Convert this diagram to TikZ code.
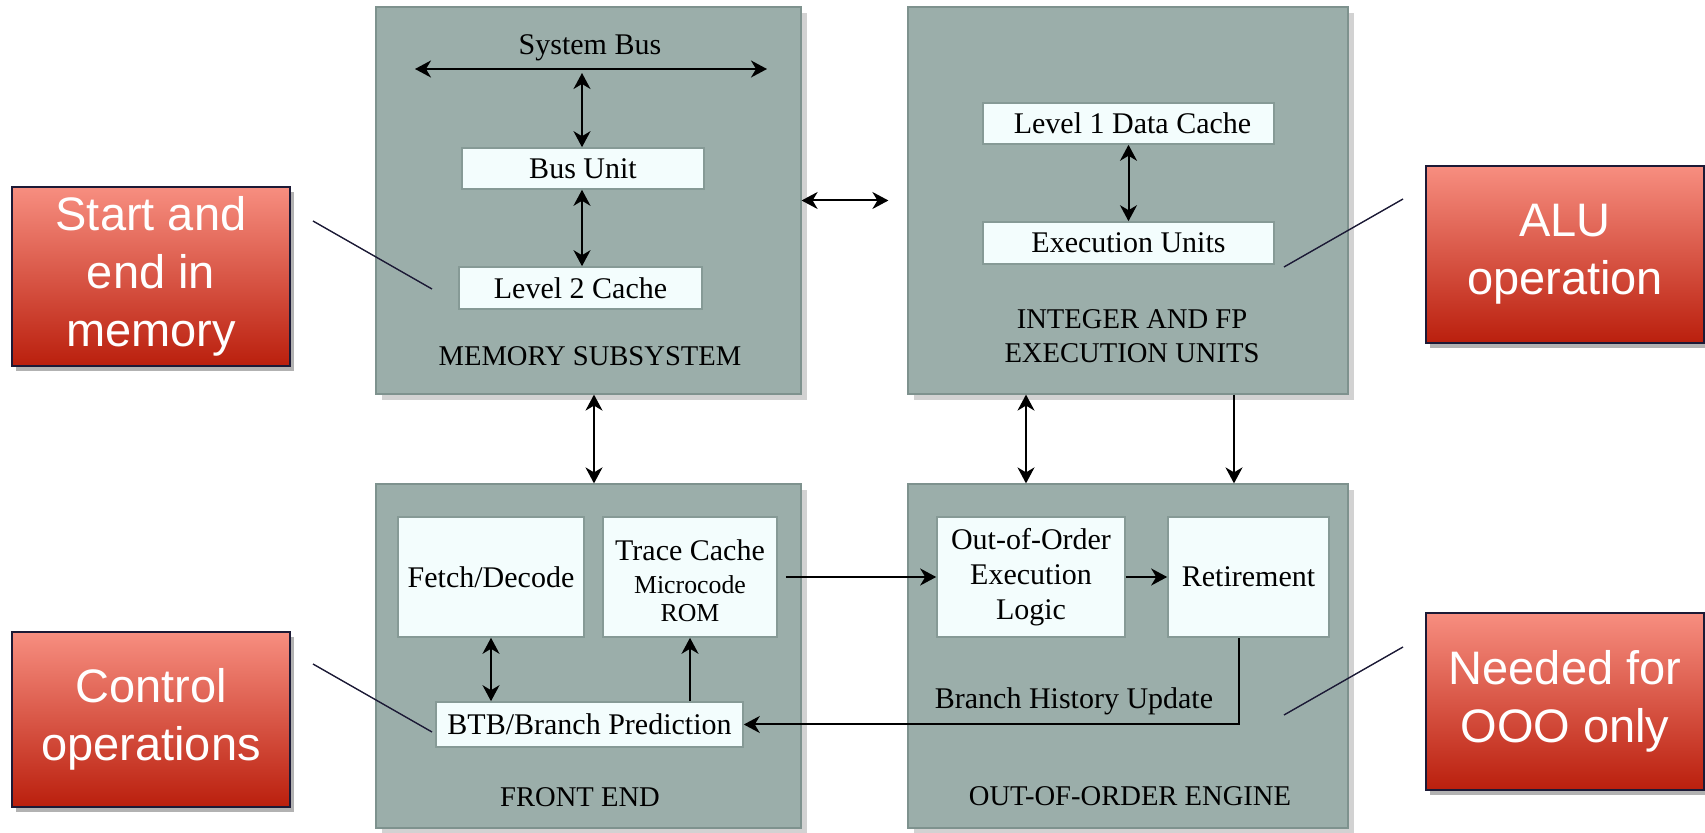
\documentclass[tikz,border=0pt]{standalone}
\usepackage{fontspec}
\setmainfont{Liberation Serif}
\newfontfamily\calloutfont{Liberation Sans}
\usetikzlibrary{arrows.meta,shadows,calc}

\definecolor{unitgray}{HTML}{9BAEAA}
\definecolor{unitedge}{HTML}{7E928E}
\definecolor{cellfill}{HTML}{F3FDFD}
\definecolor{celledge}{HTML}{869A96}
\definecolor{shadowgray}{HTML}{D2D2D2}
\definecolor{noteTop}{HTML}{F78E80}
\definecolor{noteMid}{HTML}{F04D35}
\definecolor{noteBot}{HTML}{BA1F0D}
\definecolor{noteEdge}{HTML}{1C1A36}

\begin{document}
\begin{tikzpicture}[x=0.5pt,y=-0.5pt,
  unit/.style={draw=unitedge, line width=0.6pt, fill=unitgray, inner sep=0pt,
    drop shadow={shadow xshift=3pt, shadow yshift=-3pt, fill=shadowgray, opacity=1}},
  cell/.style={draw=celledge, line width=0.8pt, fill=cellfill, inner sep=0pt,
    align=center, font=\fontsize{15}{17.5}\selectfont},
  caption/.style={align=center, inner sep=0pt, font=\fontsize{14.3}{17}\selectfont},
  plain/.style={inner sep=0pt, font=\fontsize{15}{17.5}\selectfont},
  small/.style={inner sep=0pt, font=\fontsize{12.9}{14}\selectfont},
  link/.style={line width=1pt, black},
  tip/.style={-{Stealth[length=8pt,width=8.5pt,inset=2.5pt]}},
  both/.style={{Stealth[length=8pt,width=8.5pt,inset=2.5pt]}-{Stealth[length=8pt,width=8.5pt,inset=2.5pt]}},
  note/.style={draw=noteEdge, line width=1pt, top color=noteTop, middle color=noteMid,
    bottom color=noteBot, text=white, align=center, inner sep=0pt,
    minimum width=139pt, font=\calloutfont\fontsize{23.5}{29}\selectfont,
    drop shadow={shadow xshift=2pt, shadow yshift=-2.5pt, fill=black, opacity=0.3}},
  pointer/.style={draw=noteEdge, line width=0.7pt}
]
\useasboundingbox[fill=white] (0,0) rectangle (1705,833);

% the four functional units
\node[unit, minimum width=212.5pt, minimum height=193.5pt] (mem) at (588.5,200.5) {};
\node[unit, minimum width=220pt,   minimum height=193.5pt] (int) at (1128,200.5) {};
\node[unit, minimum width=212.5pt, minimum height=172pt]   (fe)  at (588.5,656) {};
\node[unit, minimum width=220pt,   minimum height=172pt]   (ooo) at (1128,656) {};

% memory subsystem
\node[plain] (sysbus) at (590,48) {System Bus};
\coordinate (busL) at (415,69);
\coordinate (busR) at (767,69);
\coordinate (bustap) at (582,73);
\node[cell, minimum width=121pt, minimum height=20.5pt] (busunit) at (583,168.5) {Bus Unit};
\node[cell, minimum width=121.5pt, minimum height=21pt] (l2) at (580.5,288) {Level 2 Cache};
\node[caption] (memlbl) at (590,356) {MEMORY SUBSYSTEM};

% integer and FP execution units
\node[cell, minimum width=145.5pt, minimum height=20.5pt] (l1) at (1128.5,123.5) {\hspace*{4pt}Level 1 Data Cache};
\node[cell, minimum width=145.5pt, minimum height=21pt] (eu) at (1128.5,243) {Execution Units};
\node[caption] (intlbl) at (1132,336) {INTEGER AND FP\\EXECUTION UNITS};

% front end
\node[cell, minimum width=93pt, minimum height=60pt] (fetch) at (491,577) {Fetch/Decode};
\node[cell, minimum width=87pt, minimum height=60pt] (trace) at (690,577) {};
\node[plain] (tracetxt) at (690,550) {Trace Cache};
\node[small] (microtxt) at (690,585) {Microcode};
\node[small] (romtxt) at (690,613) {ROM};
\node[cell, minimum width=153.5pt, minimum height=22.5pt] (btb) at (589.5,724.5) {BTB/Branch Prediction};
\node[caption] (felbl) at (580,797) {FRONT END};

% out-of-order engine
\node[cell, minimum width=94pt, minimum height=60pt] (ooologic) at (1031,577) {Out-of-Order\\Execution\\Logic};
\node[cell, minimum width=80.5pt, minimum height=60pt] (ret) at (1248.5,577) {Retirement};
\node[plain] (bhu) at (1074,701) {Branch History Update};
\node[caption] (ooolbl) at (1130,796) {OUT-OF-ORDER ENGINE};

% data paths
\draw[link, both] (busL) -- (busR);
\draw[link, both] (bustap) -- (bustap |- busunit.north);
\draw[link, both] (bustap |- busunit.south) -- (bustap |- l2.north);
\draw[link, both] (l1.south) -- (eu.north);
\draw[link, both] (mem.east) -- ($(int.west)+(-19,0)$);
\coordinate (memfe) at (594,0);
\coordinate (intooo) at (1026,0);
\coordinate (intret) at (1234,0);
\draw[link, both] (memfe |- mem.south) -- (memfe |- fe.north);
\draw[link, both] (intooo |- int.south) -- (intooo |- ooo.north);
\draw[link, tip] (intret |- int.south) -- (intret |- ooo.north);
\draw[link, both] (fetch.south) -- (fetch.south |- btb.north);
\draw[link, tip] (trace.south |- btb.north) -- (trace.south);
\draw[link, tip] ($(trace.east)+(8,0)$) -- (ooologic.west);
\draw[link, tip] (ooologic.east) -- (ooologic.east -| ret.west);
\draw[link, tip] ([xshift=-4.75pt]ret.south) |- (btb.east);

% explanatory callouts
\node[note, minimum height=89.5pt] (memnote) at (151,276.5) {Start and\\end in\\memory};
\node[note, minimum height=88.5pt] (alunote) at (1565,254.5) {ALU\\operation};
\node[note, minimum height=87.5pt] (ctrlnote) at (151,719.5) {Control\\operations};
\node[note, minimum height=88.5pt] (ooonote) at (1565,701.5) {Needed for\\OOO only};

\coordinate (memA) at (313,221);  \coordinate (memB) at (432,289);
\coordinate (aluA) at (1403,199); \coordinate (aluB) at (1284,267);
\coordinate (ctrlA) at (313,664); \coordinate (ctrlB) at (432,732);
\coordinate (oooA) at (1403,647); \coordinate (oooB) at (1284,715);
\draw[pointer] (memA) -- (memB);
\draw[pointer] (aluA) -- (aluB);
\draw[pointer] (ctrlA) -- (ctrlB);
\draw[pointer] (oooA) -- (oooB);
\end{tikzpicture}
\end{document}
